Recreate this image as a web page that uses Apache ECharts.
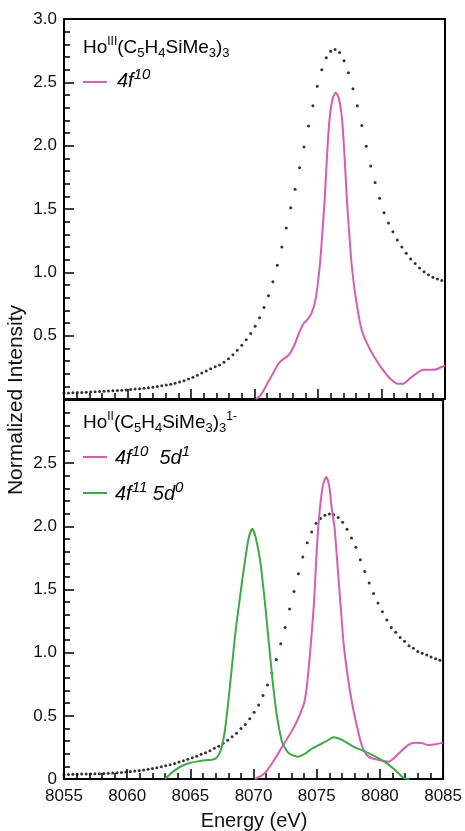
<!DOCTYPE html>
<html>
<head>
<meta charset="utf-8">
<script src="https://cdn.jsdelivr.net/npm/echarts@6/dist/echarts.min.js"></script>
<style>
  html, body { margin: 0; padding: 0; background: #fff; }
  #err { position: absolute; left: 250px; top: 420px; width: 200px; font: 10px sans-serif; color: #c00; }
</style>
</head>
<body>
<div id="chart" style="width:465px;height:831px"></div>
<div id="err"></div>
<script>
window.onerror = function (msg) { document.getElementById('err').textContent += msg + ' | '; };

// energies of the measured (dotted) points, shared by both panels
var dotEnergy = [8055.00, 8055.35, 8055.70, 8056.05, 8056.40, 8056.75, 8057.10, 8057.45, 8057.80, 8058.15,
    8058.50, 8058.85, 8059.20, 8059.55, 8059.90, 8060.25, 8060.60, 8060.95, 8061.30, 8061.65,
    8062.00, 8062.35, 8062.70, 8063.05, 8063.40, 8063.75, 8064.10, 8064.45, 8064.80, 8065.15,
    8065.50, 8065.85, 8066.20, 8066.55, 8066.90, 8067.25, 8067.60, 8067.95, 8068.30, 8068.65,
    8069.00, 8069.35, 8069.70, 8070.05, 8070.40, 8070.75, 8071.10, 8071.45, 8071.80, 8072.15,
    8072.50, 8072.85, 8073.20, 8073.55, 8073.90, 8074.25, 8074.60, 8074.95, 8075.30, 8075.65,
    8076.00, 8076.35, 8076.70, 8077.05, 8077.40, 8077.75, 8078.10, 8078.45, 8078.80, 8079.15,
    8079.50, 8079.85, 8080.20, 8080.55, 8080.90, 8081.25, 8081.60, 8081.95, 8082.30, 8082.65,
    8083.00, 8083.35, 8083.70, 8084.05, 8084.40, 8084.75];

// Ho(III) measured
var topDots = [0.045, 0.047, 0.049, 0.051, 0.052, 0.054, 0.056, 0.058, 0.060, 0.062,
    0.064, 0.066, 0.068, 0.070, 0.072, 0.075, 0.078, 0.081, 0.085, 0.089,
    0.093, 0.098, 0.104, 0.110, 0.117, 0.125, 0.134, 0.145, 0.158, 0.172,
    0.188, 0.205, 0.222, 0.238, 0.254, 0.268, 0.290, 0.318, 0.350, 0.384,
    0.424, 0.468, 0.518, 0.575, 0.642, 0.722, 0.815, 0.925, 1.055, 1.200,
    1.350, 1.510, 1.655, 1.825, 1.990, 2.155, 2.315, 2.470, 2.600, 2.695,
    2.745, 2.760, 2.735, 2.670, 2.575, 2.450, 2.315, 2.160, 1.995, 1.840,
    1.710, 1.585, 1.470, 1.390, 1.320, 1.255, 1.200, 1.150, 1.105, 1.070,
    1.035, 1.005, 0.980, 0.962, 0.948, 0.935];

// Ho(II) measured
var bottomDots = [0.035, 0.036, 0.037, 0.038, 0.039, 0.039, 0.040, 0.041, 0.042, 0.043,
    0.045, 0.047, 0.049, 0.052, 0.056, 0.059, 0.063, 0.067, 0.072, 0.078,
    0.084, 0.090, 0.097, 0.104, 0.113, 0.123, 0.134, 0.144, 0.156, 0.168,
    0.181, 0.195, 0.208, 0.224, 0.243, 0.259, 0.283, 0.306, 0.335, 0.363,
    0.400, 0.432, 0.477, 0.528, 0.585, 0.660, 0.745, 0.840, 0.945, 1.070,
    1.200, 1.345, 1.485, 1.625, 1.758, 1.870, 1.955, 2.025, 2.062, 2.087,
    2.097, 2.092, 2.070, 2.032, 1.976, 1.908, 1.835, 1.735, 1.642, 1.552,
    1.468, 1.393, 1.323, 1.258, 1.200, 1.162, 1.120, 1.090, 1.055, 1.035,
    1.010, 0.995, 0.982, 0.966, 0.952, 0.940];

// calculated 4f10 (top)
var topPinkE = [8070.1, 8070.4, 8070.7, 8071.1, 8071.5, 8071.9, 8072.2, 8072.5, 8072.8, 8073.2,
    8073.5, 8073.9, 8074.2, 8074.5, 8074.8, 8075.13, 8075.35, 8075.53, 8075.7, 8075.9,
    8076.15, 8076.4, 8076.65, 8076.9, 8077.1, 8077.27, 8077.45, 8077.67, 8078.0, 8078.45,
    8079.1, 8079.9, 8080.7, 8081.3, 8081.7, 8082.1, 8082.65, 8083.3, 8084.1, 8084.9,
    8085.0];
var topPinkI = [0.0, 0.02, 0.065, 0.14, 0.21, 0.28, 0.31, 0.33, 0.36, 0.44,
    0.52, 0.60, 0.63, 0.68, 0.78, 1.04, 1.32, 1.58, 1.90, 2.20,
    2.37, 2.42, 2.37, 2.20, 1.90, 1.58, 1.32, 1.04, 0.78, 0.54,
    0.39, 0.26, 0.16, 0.12, 0.12, 0.15, 0.195, 0.23, 0.23, 0.26,
    0.265];

// calculated 4f10 5d1 (bottom)
var botPinkE = [8070.1, 8070.6, 8071.0, 8071.4, 8071.8, 8072.2, 8072.6, 8073.0, 8073.35, 8073.7,
    8074.0, 8074.2, 8074.4, 8074.6, 8074.8, 8075.0, 8075.24, 8075.5, 8075.76, 8076.0,
    8076.2, 8076.4, 8076.55, 8076.7, 8076.9, 8077.15, 8077.5, 8077.8, 8078.07, 8078.6,
    8079.1, 8079.9, 8080.4, 8080.7, 8081.1, 8081.5, 8082.25, 8082.8, 8083.3, 8083.8,
    8084.4, 8085.0];
var botPinkI = [0.0, 0.025, 0.058, 0.115, 0.177, 0.245, 0.309, 0.375, 0.44, 0.52,
    0.60, 0.72, 0.916, 1.15, 1.42, 1.81, 2.13, 2.33, 2.39, 2.31,
    2.13, 2.0, 1.82, 1.62, 1.36, 1.05, 0.78, 0.60, 0.467, 0.256,
    0.177, 0.15, 0.14, 0.137, 0.165, 0.203, 0.27, 0.287, 0.285, 0.27,
    0.275, 0.29];

// calculated 4f11 5d0 (bottom)
var botGreenE = [8063.0, 8063.6, 8064.2, 8065.0, 8065.8, 8066.4, 8066.8, 8067.1, 8067.3, 8067.5,
    8067.7, 8067.9, 8068.1, 8068.3, 8068.5, 8068.7, 8068.9, 8069.1, 8069.3, 8069.6,
    8069.9, 8070.2, 8070.55, 8070.7, 8070.9, 8071.1, 8071.3, 8071.5, 8071.7, 8071.9,
    8072.1, 8072.3, 8072.8, 8073.5, 8074.1, 8074.66, 8075.2, 8075.7, 8076.36, 8077.0,
    8077.9, 8078.85, 8079.9, 8080.55, 8081.2, 8081.86, 8082.3];
var botGreenI = [0.0, 0.055, 0.097, 0.129, 0.143, 0.15, 0.155, 0.17, 0.203, 0.26,
    0.362, 0.52, 0.705, 0.9, 1.10, 1.27, 1.417, 1.57, 1.71, 1.90,
    1.98, 1.90, 1.71, 1.58, 1.40, 1.19, 0.99, 0.784, 0.61, 0.467,
    0.36, 0.282, 0.203, 0.177, 0.203, 0.243, 0.27, 0.295, 0.33, 0.309,
    0.256, 0.216, 0.164, 0.124, 0.071, 0.01, 0.0];

var PINK = '#d65db4';
var GREEN = '#3cab47';
var FONT = '"Liberation Sans", Arial, Helvetica, sans-serif';

function pairs(xs, ys) {
    return xs.map(function (x, i) { return [x, ys[i]]; });
}

function xAxisCfg(gridIndex, showLabel) {
    return {
        type: 'value', gridIndex: gridIndex, min: 8055, max: 8085, interval: 5,
        axisLine: { show: true, onZero: false, lineStyle: { color: '#000', width: 2 } },
        axisTick: { show: true, inside: true, length: 10, lineStyle: { color: '#000', width: 1.5 } },
        minorTick: { show: true, splitNumber: 5, length: 6, lineStyle: { color: '#000', width: 1.5 } },
        splitLine: { show: false },
        axisLabel: { show: showLabel, fontSize: 17, margin: 9, color: '#111', formatter: function (v) { return String(v); } }
    };
}
function yAxisCfg(gridIndex, fmt) {
    return {
        type: 'value', gridIndex: gridIndex, min: 0, max: 3, interval: 0.5,
        axisLine: { show: true, lineStyle: { color: '#000', width: 2 } },
        axisTick: { show: true, inside: true, length: 10, lineStyle: { color: '#000', width: 1.5 } },
        minorTick: { show: true, splitNumber: 5, length: 6, lineStyle: { color: '#000', width: 1.5 } },
        splitLine: { show: false },
        axisLabel: { fontSize: 17, margin: 7, color: '#111', formatter: fmt }
    };
}

var richBase = {
    n: { fontSize: 19, lineHeight: 24, verticalAlign: 'middle', fontFamily: FONT, color: '#111' },
    sup: { fontSize: 12, lineHeight: 12, verticalAlign: 'top', fontFamily: FONT, color: '#111' },
    sub: { fontSize: 13, lineHeight: 12, verticalAlign: 'bottom', fontFamily: FONT, color: '#111' }
};
function richConf(color) {
    return {
        n: { fontSize: 20, lineHeight: 28, verticalAlign: 'middle', fontStyle: 'italic', fontFamily: FONT, color: color },
        sup: { fontSize: 15, lineHeight: 15, verticalAlign: 'top', fontStyle: 'italic', fontFamily: FONT, color: color }
    };
}

var chart = echarts.init(document.getElementById('chart'));
try {
chart.setOption({
    animation: false,
    textStyle: { fontFamily: FONT },
    grid: [
        { left: 64, right: 20, top: 19, height: 380, show: true, borderColor: '#000', borderWidth: 2 },
        { left: 64, right: 20, top: 400, height: 379, show: true, borderColor: '#000', borderWidth: 2 }
    ],
    xAxis: [xAxisCfg(0, false), xAxisCfg(1, true)],
    yAxis: [
        yAxisCfg(0, function (v) { return v === 0 ? '' : v.toFixed(1); }),
        yAxisCfg(1, function (v) { return v === 0 ? '0' : (v >= 3 ? '' : v.toFixed(1)); })
    ],
    series: [
        { type: 'scatter', xAxisIndex: 0, yAxisIndex: 0, symbolSize: 3, itemStyle: { color: '#000' }, data: pairs(dotEnergy, topDots) },
        { type: 'line', xAxisIndex: 0, yAxisIndex: 0, smooth: 0.25, showSymbol: false, lineStyle: { color: PINK, width: 2 }, data: pairs(topPinkE, topPinkI) },
        { type: 'scatter', xAxisIndex: 1, yAxisIndex: 1, symbolSize: 3, itemStyle: { color: '#000' }, data: pairs(dotEnergy, bottomDots) },
        { type: 'line', xAxisIndex: 1, yAxisIndex: 1, smooth: 0.25, showSymbol: false, lineStyle: { color: PINK, width: 2 }, data: pairs(botPinkE, botPinkI) },
        { type: 'line', xAxisIndex: 1, yAxisIndex: 1, smooth: 0.25, showSymbol: false, lineStyle: { color: GREEN, width: 2 }, data: pairs(botGreenE, botGreenI) }
    ],
    graphic: [
        {
            type: 'text', x: 16, y: 400, rotation: Math.PI / 2,
            style: { text: 'Normalized Intensity', font: '21px ' + FONT, fill: '#111', align: 'center', verticalAlign: 'middle' }
        },
        {
            type: 'text', x: 254, y: 821,
            style: { text: 'Energy (eV)', font: '20px ' + FONT, fill: '#111', align: 'center', verticalAlign: 'middle' }
        },
        {
            type: 'text', x: 83, y: 48,
            style: {
                text: '{n|Ho}{sup|III}{n|(C}{sub|5}{n|H}{sub|4}{n|SiMe}{sub|3}{n|)}{sub|3}',
                rich: richBase, verticalAlign: 'middle'
            }
        },
        { type: 'line', shape: { x1: 83, y1: 82, x2: 107, y2: 82 }, style: { stroke: PINK, lineWidth: 2 } },
        {
            type: 'text', x: 117, y: 81,
            style: { text: '{n|4f}{sup|10}', rich: richConf(PINK), verticalAlign: 'middle' }
        },
        {
            type: 'text', x: 83, y: 423,
            style: {
                text: '{n|Ho}{sup|II}{n|(C}{sub|5}{n|H}{sub|4}{n|SiMe}{sub|3}{n|)}{sub|3}{sup|1-}',
                rich: richBase, verticalAlign: 'middle'
            }
        },
        { type: 'line', shape: { x1: 83, y1: 457, x2: 107, y2: 457 }, style: { stroke: PINK, lineWidth: 2 } },
        {
            type: 'text', x: 115, y: 458,
            style: { text: '{n|4f}{sup|10}{n|  5d}{sup|1}', rich: richConf(PINK), verticalAlign: 'middle' }
        },
        { type: 'line', shape: { x1: 83, y1: 493, x2: 107, y2: 493 }, style: { stroke: GREEN, lineWidth: 2 } },
        {
            type: 'text', x: 115, y: 494,
            style: { text: '{n|4f}{sup|11}{n| 5d}{sup|0}', rich: richConf(GREEN), verticalAlign: 'middle' }
        }
    ]
});
} catch (e) {
    document.getElementById('err').textContent += 'setOption: ' + e.message;
}
</script>
</body>
</html>
